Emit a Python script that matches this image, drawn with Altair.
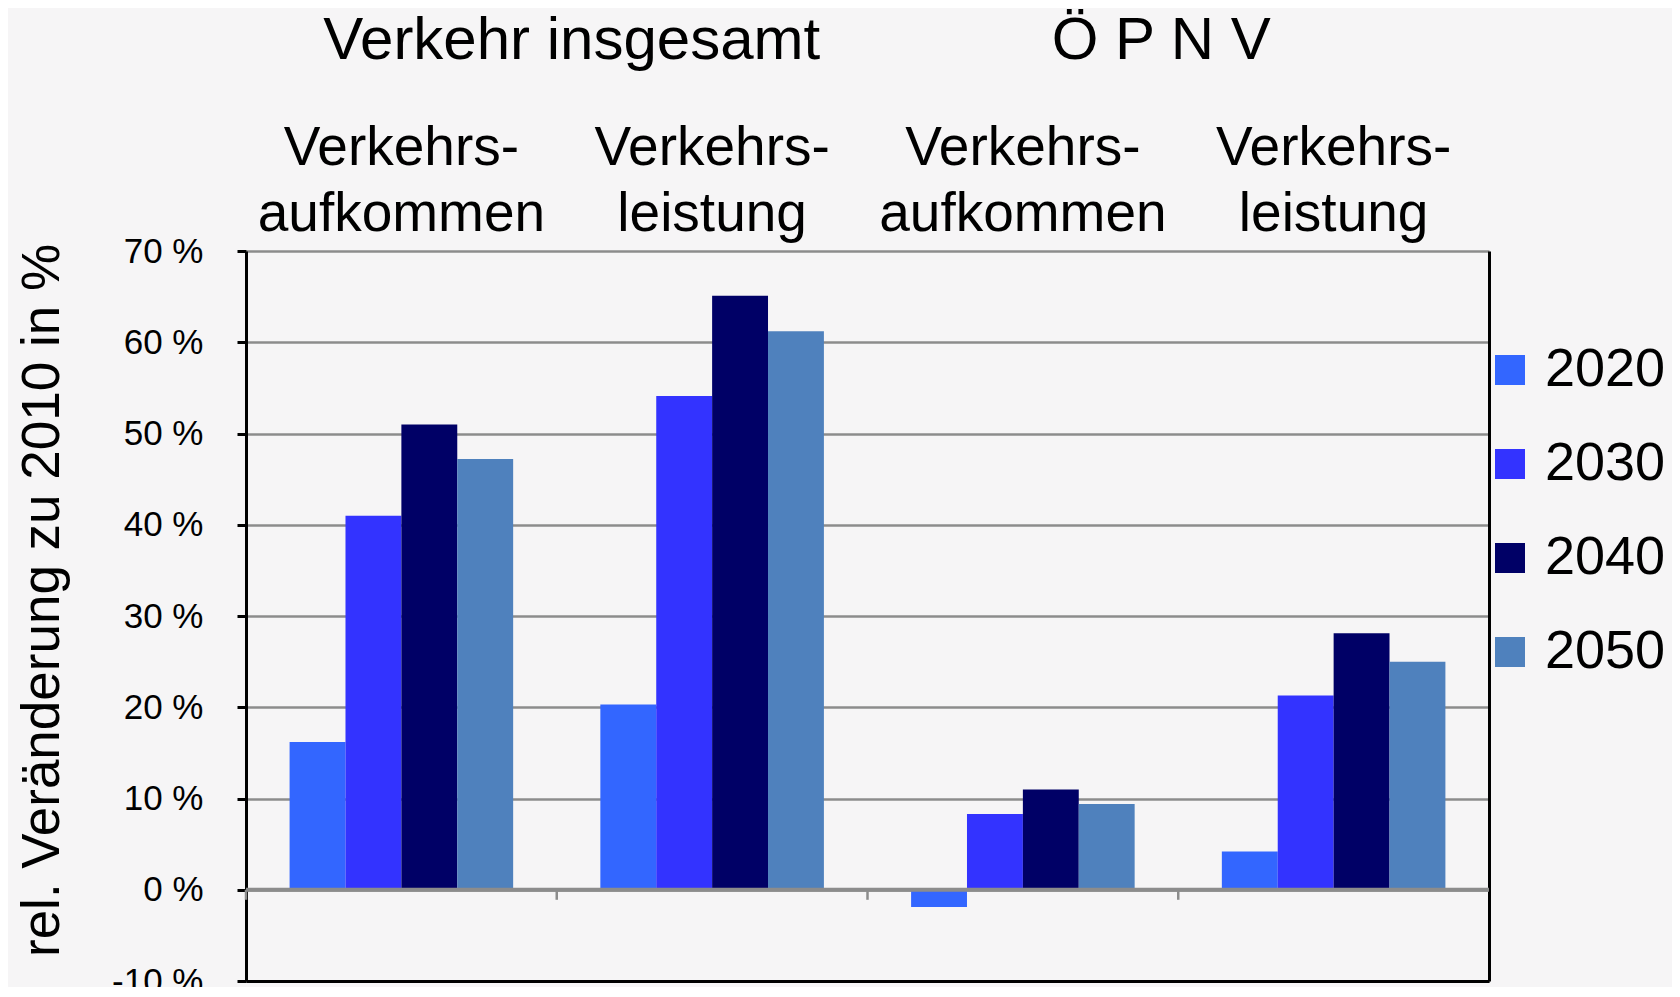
import json
import altair as alt
import pandas as pd

# ---- data ----
group_keys = [0, 1, 2, 3]
group_lines = [["Verkehrs-", "aufkommen"], ["Verkehrs-", "leistung"],
               ["Verkehrs-", "aufkommen"], ["Verkehrs-", "leistung"]]
header_keys = [1, 3]
header_texts = ["Verkehr insgesamt", "Ö P N V"]
years = ["2020", "2030", "2040", "2050"]
colors = ["#3366FF", "#3333FF", "#000066", "#4F81BD"]
v2020 = [16.2, 20.3, -1.9, 4.2]
v2030 = [41.0, 54.1, 8.3, 21.3]
v2040 = [51.0, 65.1, 11.0, 28.1]
v2050 = [47.2, 61.2, 9.4, 25.0]
y_ticks = [-10, 0, 10, 20, 30, 40, 50, 60, 70]
y_title = "rel. Veränderung zu 2010 in %"

FONT = "Liberation Sans"
W, H = 1243, 730

rows = []
for yr, vals in zip(years, [v2020, v2030, v2040, v2050]):
    for g, v in zip(group_keys, vals):
        rows.append({"group": g, "year": yr, "value": v})
df = pd.DataFrame(rows)

label_expr = json.dumps(group_lines, ensure_ascii=False) + "[datum.value]"

bars = alt.Chart(df).mark_bar().encode(
    x=alt.X("group:N",
            scale=alt.Scale(domain=group_keys, paddingInner=0, paddingOuter=0),
            axis=alt.Axis(orient="top", title=None, domain=False, ticks=False,
                          labelExpr=label_expr, labelFont=FONT, labelFontSize=55,
                          labelColor="black", labelLineHeight=66, labelPadding=87,
                          labelBaseline="alphabetic", labelLimit=0,
                          labelAngle=0)),
    xOffset=alt.XOffset("year:N",
                        scale=alt.Scale(domain=years, paddingInner=0, paddingOuter=0.78)),
    y=alt.Y("value:Q",
            scale=alt.Scale(domain=[-10, 70], nice=False),
            axis=alt.Axis(values=y_ticks, labelExpr="datum.value + ' %'",
                          labelFont=FONT, labelFontSize=35, labelColor="black",
                          labelPadding=34, tickSize=9, tickColor="black", tickWidth=3,
                          domainColor="black", domainWidth=3,
                          grid=True, gridColor="#8c8c8c", gridWidth=2.5,
                          title=y_title, titleFont=FONT, titleFontSize=53,
                          titleFontWeight="normal", titleColor="black",
                          titleAngle=270, titleX=-230, titleY=349,
                          titleBaseline="top", titleAlign="center")),
    y2=alt.datum(0),
    color=alt.Color("year:N", scale=alt.Scale(domain=years, range=colors),
                    legend=alt.Legend(orient="none", legendX=W - 6, legendY=92,
                                      title=None, symbolType="square", symbolSize=900,
                                      symbolStrokeWidth=0, labelFont=FONT,
                                      labelFontSize=54, labelColor="black",
                                      rowPadding=40, labelOffset=8, labelLimit=0)),
)

zero = alt.Chart(pd.DataFrame({"v": [0]})).mark_rule(
    color="#8c8c8c", strokeWidth=4
).encode(y=alt.Y("v:Q", axis=None))

ticks = alt.Chart(pd.DataFrame({"k": group_keys, "y0": [0] * 4, "y1": [-1.1] * 4})).mark_rule(
    color="#8c8c8c", strokeWidth=2.5
).encode(
    x=alt.X("k:N", bandPosition=0,
            axis=alt.Axis(orient="bottom", title=None, labels=False, ticks=False,
                          grid=False, domainColor="black", domainWidth=3)),
    y=alt.Y("y0:Q",
            axis=alt.Axis(orient="right", title=None, labels=False, ticks=False,
                          grid=False, domainColor="black", domainWidth=3)),
    y2="y1:Q",
)

hdr_df = pd.DataFrame({"k": header_keys, "t": header_texts})


def header(i, dx):
    return alt.Chart(hdr_df.iloc[[i]]).mark_text(
        font=FONT, fontSize=60, baseline="alphabetic", align="center",
        color="black", dx=dx
    ).encode(
        x=alt.X("k:N", bandPosition=0, axis=None),
        y=alt.value(-192),
        text="t:N",
    )


chart = alt.layer(bars, zero, ticks, header(0, 15), header(1, -17)).resolve_axis(
    x="independent", y="independent"
).properties(
    width=W, height=H,
    autosize=alt.AutoSizeParams(type="none"),
    padding={"left": 238, "top": 243, "right": 183, "bottom": 6},
    background="#F6F5F6",
).configure_view(stroke=None)

chart.save("out.html", embed_options={"renderer": "svg", "actions": False})
